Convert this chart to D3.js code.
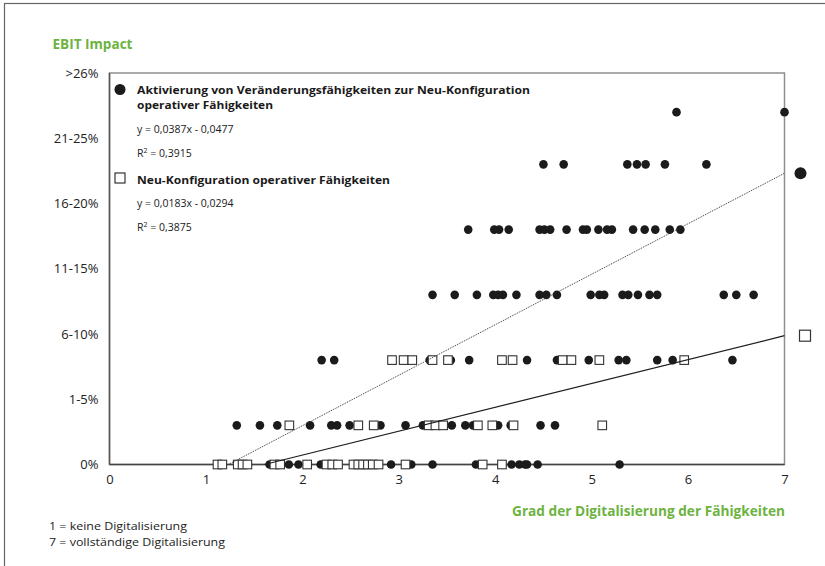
<!DOCTYPE html>
<html>
<head>
<meta charset="utf-8">
<script src="https://cdnjs.cloudflare.com/ajax/libs/d3/7.8.5/d3.min.js"></script>
<style>
  html, body { margin: 0; padding: 0; background: #fff; }
  svg { display: block; font-family: "Open Sans", "Noto Sans", sans-serif; }
</style>
</head>
<body>
<svg id="chart" width="825" height="566"></svg>
<script>
// EBIT categories on the y axis (tick positions and their labels)
const yTickValues = [0, 0.05, 0.10, 0.15, 0.20, 0.25, 0.30];
const yTickLabels = ["0%", "1-5%", "6-10%", "11-15%", "16-20%", "21-25%", ">26%"];
const xTicks = [0, 1, 2, 3, 4, 5, 6, 7];

// EBIT value used for each answer row (row index = position in the lists below)
const rowValues = [0, 0.03, 0.08, 0.13, 0.18, 0.23, 0.27];

// Aktivierung von Veränderungsfähigkeiten: digitalisation grade per EBIT row
const aktivierungRows = [
  [1.66, 1.86, 1.96, 2.19, 2.92, 3.13, 3.35, 3.80, 4.17, 4.25, 4.31, 4.33, 4.44, 5.29],
  [1.32, 1.56, 1.74, 2.08, 2.30, 2.36, 2.49, 2.81, 3.07, 3.25, 3.55, 3.69, 3.77, 4.03, 4.16, 4.47, 4.62],
  [2.20, 2.33, 3.32, 3.54, 3.73, 4.33, 4.64, 4.97, 5.28, 5.36, 5.68, 5.84, 6.46],
  [3.35, 3.58, 3.81, 3.98, 4.03, 4.08, 4.22, 4.46, 4.53, 4.64, 4.99, 5.08, 5.13, 5.32, 5.38, 5.48, 5.60, 5.68, 6.37, 6.50, 6.68],
  [3.72, 3.99, 4.04, 4.14, 4.46, 4.51, 4.57, 4.74, 4.91, 4.95, 5.07, 5.16, 5.21, 5.43, 5.55, 5.66, 5.81, 5.92],
  [4.50, 4.71, 5.37, 5.47, 5.56, 5.76, 6.19],
  [5.88, 7.00]
];

// Neu-Konfiguration operativer Fähigkeiten: digitalisation grade per EBIT row
const neuKonfigRows = [
  [1.12, 1.17, 1.33, 1.38, 1.43, 1.71, 1.77, 2.05, 2.25, 2.31, 2.37, 2.53, 2.58, 2.63, 2.68, 2.73, 2.79, 3.07, 3.87, 4.07],
  [1.865, 2.58, 2.74, 3.31, 3.38, 3.46, 3.82, 3.97, 4.19, 5.11],
  [2.93, 3.05, 3.14, 3.35, 3.51, 4.07, 4.18, 4.70, 4.79, 5.08, 5.96],
  [], [], [], []
];

// Linear trends y = slope * x + intercept
const seriesNames = ["Aktivierung von Veränderungsfähigkeiten zur Neu-Konfiguration operativer Fähigkeiten",
                     "Neu-Konfiguration operativer Fähigkeiten"];
const trendSlopes = [0.0387, 0.0183];
const trendIntercepts = [-0.0477, -0.0294];
const rSquared = [0.3915, 0.3875];

const green = "#6db33f";
const svg = d3.select("#chart");

const x = d3.scaleLinear().domain([0, 7]).range([109.5, 784.5]);
const y = d3.scaleLinear().domain([0, 0.30]).range([464.5, 73]);

const toPoints = rows => rows.flatMap((xs, i) => xs.map(v => ({ x: v, y: rowValues[i] })));
const dots = toPoints(aktivierungRows);
const squares = toPoints(neuKonfigRows);

// outer frame of the figure
svg.append("rect")
  .attr("x", 4.5).attr("y", 3.5).attr("width", 900).attr("height", 700)
  .attr("fill", "none").attr("stroke", "#666").attr("stroke-width", 1.2);

// plot frame
svg.append("rect")
  .attr("x", x(0)).attr("y", y(0.30))
  .attr("width", x(7) - x(0)).attr("height", y(0) - y(0.30))
  .attr("fill", "none").attr("stroke", "#8f8f8f").attr("stroke-width", 1.5);
svg.append("line")
  .attr("x1", x(0)).attr("x2", x(0)).attr("y1", y(0.30)).attr("y2", y(0))
  .attr("stroke", "#555").attr("stroke-width", 1.5);
svg.append("line")
  .attr("x1", x(0)).attr("x2", x(7)).attr("y1", y(0)).attr("y2", y(0))
  .attr("stroke", "#444").attr("stroke-width", 1.3);

// axes
const xAxis = svg.append("g")
  .attr("transform", `translate(0,${y(0)})`)
  .call(d3.axisBottom(x).tickValues(xTicks).tickSize(0).tickPadding(10).tickFormat(d3.format("d")));
xAxis.select(".domain").remove();
xAxis.selectAll("text").attr("font-size", 13).attr("fill", "#222")
  .attr("font-family", "'Open Sans', sans-serif");

const yAxis = svg.append("g")
  .attr("transform", `translate(${x(0)},0)`)
  .call(d3.axisLeft(y).tickValues(yTickValues).tickSize(0).tickPadding(11)
    .tickFormat((d, i) => yTickLabels[i]));
yAxis.select(".domain").remove();
yAxis.selectAll("text").attr("font-size", 13).attr("fill", "#222")
  .attr("font-family", "'Open Sans', sans-serif");

// data points
svg.append("g").selectAll("circle").data(dots).join("circle")
  .attr("cx", d => x(d.x)).attr("cy", d => y(d.y)).attr("r", 4.3)
  .attr("fill", "#1b1b1b");

svg.append("g").selectAll("rect").data(squares).join("rect")
  .attr("x", d => x(d.x) - 4.3).attr("y", d => y(d.y) - 4.3)
  .attr("width", 8.6).attr("height", 8.6)
  .attr("fill", "#fff").attr("stroke", "#333").attr("stroke-width", 1.1);

// trend lines, starting where they cross 0 and ending at x = 7
const trendLine = i => {
  const x0 = Math.max(0, -trendIntercepts[i] / trendSlopes[i]);
  return [x0, 7].map(v => ({ x: v, y: trendSlopes[i] * v + trendIntercepts[i] }));
};
const line = d3.line().x(d => x(d.x)).y(d => y(d.y));

svg.append("path").datum(trendLine(0)).attr("d", line)
  .attr("fill", "none").attr("stroke", "#333").attr("stroke-width", 1)
  .attr("stroke-dasharray", "1,1");
svg.append("path").datum(trendLine(1)).attr("d", line)
  .attr("fill", "none").attr("stroke", "#1e1e1e").attr("stroke-width", 1.2);

// end-of-line markers
const endA = trendLine(0)[1], endB = trendLine(1)[1];
svg.append("circle").attr("cx", x(7) + 16).attr("cy", y(endA.y)).attr("r", 6)
  .attr("fill", "#1b1b1b");
svg.append("rect").attr("x", x(7) + 15).attr("y", y(endB.y) - 5.5)
  .attr("width", 11).attr("height", 11)
  .attr("fill", "#fff").attr("stroke", "#333").attr("stroke-width", 1.2);

// legend inside the plot
const fmt = v => d3.format(".4f")(Math.abs(v)).replace(".", ",");
const eq = i => `y = ${fmt(trendSlopes[i])}x ${trendIntercepts[i] < 0 ? "-" : "+"} ${fmt(trendIntercepts[i])}`;
const lg = svg.append("g");
lg.append("circle").attr("cx", 120).attr("cy", 89.5).attr("r", 5.5).attr("fill", "#1b1b1b");
lg.append("rect").attr("x", 115).attr("y", 173).attr("width", 10).attr("height", 10)
  .attr("fill", "#fff").attr("stroke", "#333").attr("stroke-width", 1.2);

const legendLines = [
  { t: "Aktivierung von Veränderungsfähigkeiten zur Neu-Konfiguration", y: 94, bold: true, w: 393 },
  { t: "operativer Fähigkeiten", y: 109, bold: true, w: 136 },
  { t: eq(0), y: 133, bold: false },
  { t: null, r: 0, y: 157 },
  { t: "Neu-Konfiguration operativer Fähigkeiten", y: 184, bold: true, w: 253 },
  { t: eq(1), y: 207, bold: false },
  { t: null, r: 1, y: 231 }
];
legendLines.forEach(l => {
  const t = lg.append("text").attr("x", 137).attr("y", l.y).attr("fill", "#1a1a1a");
  if (l.t === null) {
    t.attr("font-size", 10.5).text("R");
    t.append("tspan").attr("font-size", 7).attr("dy", -4).text("2");
    t.append("tspan").attr("dy", 4).text(" = " + String(rSquared[l.r]).replace(".", ","));
  } else {
    t.attr("font-size", l.bold ? 11 : 10.5).attr("font-weight", l.bold ? 700 : 400).text(l.t);
    if (l.w) t.attr("textLength", l.w).attr("lengthAdjust", "spacingAndGlyphs");
  }
});

// titles and notes
svg.append("text").attr("x", 52.5).attr("y", 48.5).attr("fill", green)
  .attr("font-size", 14).attr("font-weight", 700)
  .attr("textLength", 80).attr("lengthAdjust", "spacingAndGlyphs")
  .text("EBIT Impact");
svg.append("text").attr("x", 512).attr("y", 515.5).attr("fill", green)
  .attr("font-size", 13.5).attr("font-weight", 700)
  .attr("textLength", 273).attr("lengthAdjust", "spacingAndGlyphs")
  .text("Grad der Digitalisierung der Fähigkeiten");
svg.append("text").attr("x", 49).attr("y", 530).attr("fill", "#222")
  .attr("font-size", 11).attr("textLength", 138).attr("lengthAdjust", "spacingAndGlyphs")
  .text("1 = keine Digitalisierung");
svg.append("text").attr("x", 49).attr("y", 546).attr("fill", "#222")
  .attr("font-size", 11).attr("textLength", 176).attr("lengthAdjust", "spacingAndGlyphs")
  .text("7 = vollständige Digitalisierung");
</script>
</body>
</html>
